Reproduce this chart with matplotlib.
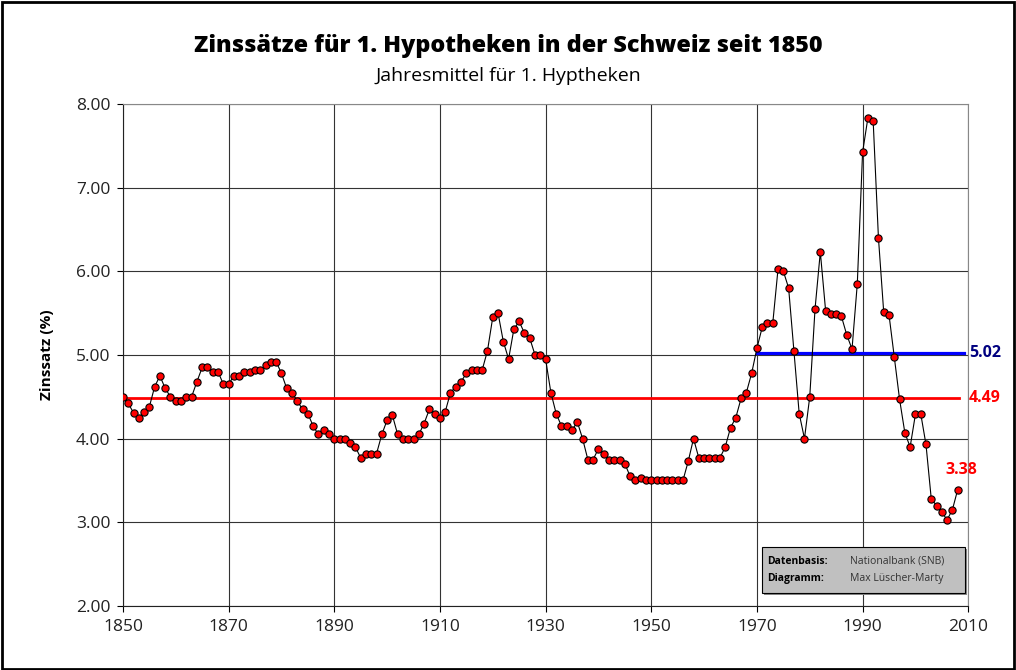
import matplotlib.pyplot as plt
from matplotlib.patches import Rectangle
import numpy as np

plt.rcParams['font.family'] = ['Open Sans', 'DejaVu Sans']

# Jahresmittel Zinssatz 1. Hypotheken, 1850-2008
years = np.arange(1850, 2009)
rates = [
    4.50, 4.42, 4.31, 4.25, 4.32, 4.38, 4.62, 4.75, 4.60, 4.50,  # 1850
    4.45, 4.45, 4.50, 4.50, 4.68, 4.85, 4.85, 4.80, 4.80, 4.65,  # 1860
    4.65, 4.75, 4.75, 4.80, 4.80, 4.82, 4.82, 4.88, 4.92, 4.92,  # 1870
    4.78, 4.60, 4.55, 4.45, 4.35, 4.30, 4.15, 4.05, 4.10, 4.05,  # 1880
    4.00, 4.00, 4.00, 3.95, 3.90, 3.77, 3.82, 3.82, 3.82, 4.05,  # 1890
    4.22, 4.28, 4.05, 4.00, 4.00, 4.00, 4.05, 4.18, 4.35, 4.30,  # 1900
    4.25, 4.32, 4.55, 4.62, 4.68, 4.78, 4.82, 4.82, 4.82, 5.05,  # 1910
    5.45, 5.50, 5.16, 4.95, 5.31, 5.40, 5.26, 5.20, 5.00, 5.00,  # 1920
    4.95, 4.55, 4.30, 4.15, 4.15, 4.10, 4.20, 4.00, 3.75, 3.75,  # 1930
    3.88, 3.82, 3.75, 3.75, 3.75, 3.70, 3.55, 3.50, 3.53, 3.50,  # 1940
    3.50, 3.50, 3.50, 3.50, 3.50, 3.50, 3.50, 3.73, 4.00, 3.77,  # 1950
    3.77, 3.77, 3.77, 3.77, 3.90, 4.13, 4.25, 4.48, 4.55, 4.78,  # 1960
    5.08, 5.33, 5.38, 5.38, 6.03, 6.00, 5.80, 5.05, 4.30, 4.00,  # 1970
    4.50, 5.55, 6.23, 5.53, 5.49, 5.49, 5.46, 5.24, 5.07, 5.85,  # 1980
    7.42, 7.83, 7.80, 6.40, 5.51, 5.48, 4.97, 4.47, 4.07, 3.90,  # 1990
    4.29, 4.30, 3.93, 3.28, 3.20, 3.12, 3.03, 3.15, 3.39,        # 2000
]

mean_all = 4.49      # Mittel 1850-2008
mean_1970 = 5.02     # Mittel 1970-2008
last_value = 3.38

fig = plt.figure(figsize=(10.16, 6.70), dpi=100)
ax = fig.add_axes([0.121, 0.0955, 0.832, 0.7495])

ax.plot([1850, 2008.3], [mean_all, mean_all], color='#FF0000', lw=2.0, zorder=2)
ax.plot([1970, 2009.2], [mean_1970, mean_1970], color='#0000FF', lw=2.3, zorder=2)
ax.plot(years, rates, color='black', lw=0.8, marker='o', ms=5.2,
        mfc='#FF0000', mec='black', mew=0.8, zorder=3)

ax.set_xlim(1850, 2010)
ax.set_ylim(2, 8)
ax.set_xticks(np.arange(1850, 2011, 20))
ax.set_yticks(np.arange(2, 8.01, 1))
ax.set_yticklabels(['%.2f' % v for v in np.arange(2, 8.01, 1)])
ax.tick_params(labelsize=12.5, direction='out', length=4, width=0.8, pad=5,
               labelcolor='#222222')
ax.grid(True, color='#333333', lw=0.8)
ax.set_axisbelow(True)
for s in ['top', 'right']:
    ax.spines[s].set_color('#888888')
for s in ['left', 'bottom']:
    ax.spines[s].set_color('#222222')
ax.set_ylabel('Zinssatz (%)', fontsize=11, fontweight='bold', labelpad=16)

ax.text(2010.1, mean_1970, '%.2f' % mean_1970, color='#000080', fontsize=11.5,
        fontweight='bold', va='center', ha='left', clip_on=False)
ax.text(2010.1, mean_all, '%.2f' % mean_all, color='#FF0000', fontsize=11.5,
        fontweight='bold', va='center', ha='left', clip_on=False)
ax.text(2008.6, 3.62, '%.2f' % last_value, color='#FF0000', fontsize=11.5,
        fontweight='bold', va='center', ha='center')

fig.text(0.5, 0.931, 'Zinssätze für 1. Hypotheken in der Schweiz seit 1850',
         ha='center', va='center', fontsize=16.8, fontweight='heavy')
fig.text(0.5, 0.886, 'Jahresmittel für 1. Hyptheken', ha='center', va='center',
         fontsize=14)

# Quellenbox
fig.patches.append(Rectangle((764 / 1016, 1 - 595 / 670), 203 / 1016, 46 / 670,
                             transform=fig.transFigure, facecolor='#888888',
                             edgecolor='none', zorder=4))
fig.patches.append(Rectangle((762 / 1016, 1 - 593 / 670), 203 / 1016, 46 / 670,
                             transform=fig.transFigure, facecolor='#C0C0C0',
                             edgecolor='black', lw=0.8, zorder=5))
fig.text(767 / 1016, 1 - 561 / 670, 'Datenbasis:', fontsize=7.5, fontweight='bold',
         va='center', zorder=6)
fig.text(767 / 1016, 1 - 578 / 670, 'Diagramm:', fontsize=7.5, fontweight='bold',
         va='center', zorder=6)
fig.text(850 / 1016, 1 - 561 / 670, 'Nationalbank (SNB)', fontsize=7.5,
         va='center', color='#333333', zorder=6)
fig.text(850 / 1016, 1 - 578 / 670, 'Max Lüscher-Marty', fontsize=7.5,
         va='center', color='#333333', zorder=6)

# Rahmen um die ganze Grafik
fig.patches.append(Rectangle((0.0015, 0.0022), 0.997, 0.9955, transform=fig.transFigure,
                             facecolor='none', edgecolor='black', lw=2))

fig.savefig('out.png', dpi=100)
